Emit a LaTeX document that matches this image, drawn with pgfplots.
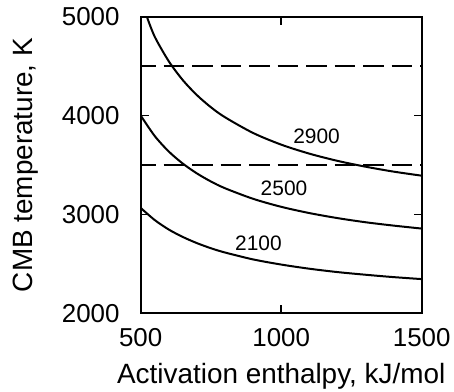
\documentclass[border=0pt]{standalone}
\usepackage{fontspec}
\setmainfont{Liberation Sans}
\usepackage{pgfplots}
\pgfplotsset{compat=1.18}
\begin{document}
\begin{tikzpicture}
\useasboundingbox (-140.7bp,-78.7bp) rectangle (313.3bp,313.3bp);
\begin{axis}[
  scale only axis,
  width=281bp, height=296.6bp,
  at={(0,0)}, anchor=south west,
  xmin=500, xmax=1500, ymin=2000, ymax=5000,
  xtick={500,1000,1500}, ytick={2000,3000,4000,5000},
  xticklabels={500,1000,1500}, yticklabels={2000,3000,4000,5000},
  tick align=inside,
  major tick length=8bp,
  axis line style={line width=2bp},
  tick style={line width=1.5bp, black},
  xticklabel style={font=\fontsize{26}{30}\selectfont, inner sep=0pt, yshift=-14.7bp},
  yticklabel style={font=\fontsize{26}{30}\selectfont, inner sep=0pt, xshift=-21bp},
  xlabel={Activation enthalpy, kJ/mol},
  ylabel={CMB temperature, K},
  every axis x label/.style={at={(axis description cs:0.5,-0.236)}, anchor=base, font=\fontsize{28}{32}\selectfont},
  every axis y label/.style={at={(axis description cs:-0.3868,0.5)}, rotate=90, anchor=base, font=\fontsize{28}{32}\selectfont},
]
\addplot[black, line width=2bp, smooth] coordinates {
 (500,3066) (550,2943) (600,2847) (650,2772) (700,2710) (750,2658) (800,2615)
 (900,2545) (1000,2493) (1100,2451) (1200,2417) (1300,2390) (1400,2366) (1500,2346)};
\addplot[black, line width=2bp, smooth] coordinates {
 (500,4000) (550,3793) (600,3636) (650,3514) (700,3415) (750,3333) (800,3265)
 (900,3158) (1000,3077) (1100,3014) (1200,2963) (1300,2921) (1400,2887) (1500,2857)};
\addplot[black, line width=2bp, smooth] coordinates {
 (522,5000) (550,4797) (600,4549) (650,4358) (700,4207) (750,4084) (800,3983)
 (900,3824) (1000,3706) (1100,3615) (1200,3542) (1300,3483) (1400,3433) (1500,3392)};
\addplot[black, line width=2bp, dash pattern=on 20.7bp off 7.8bp, dash phase=5.5bp] coordinates {(500,4500) (1500,4500)};
\addplot[black, line width=2bp, dash pattern=on 20.7bp off 7.8bp, dash phase=5.5bp] coordinates {(500,3500) (1500,3500)};
\node[font=\fontsize{21}{24}\selectfont] at (axis cs:1126,3787) {2900};
\node[font=\fontsize{21}{24}\selectfont] at (axis cs:1010,3264) {2500};
\node[font=\fontsize{21}{24}\selectfont] at (axis cs:919,2708) {2100};
\end{axis}
\end{tikzpicture}
\end{document}
